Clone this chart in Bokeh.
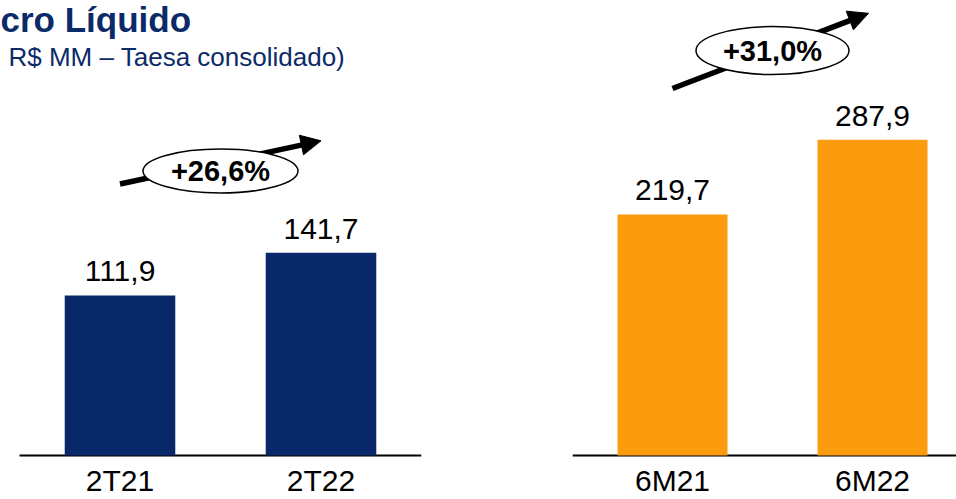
from bokeh.plotting import figure
from bokeh.layouts import row
from bokeh.models import Range1d, Arrow, NormalHead, Label
from bokeh.core.properties import value
from bokeh.embed import file_html
from bokeh.resources import INLINE

# ---- data ----
cats_q = ["2T21", "2T22"]
vals_q = [111.9, 141.7]
growth_q = "+26,6%"

cats_s = ["6M21", "6M22"]
vals_s = [219.7, 287.9]
growth_s = "+31,0%"

title_text = "cro Líquido"
subtitle_text = "R$ MM – Taesa consolidado)"

NAVY = "#08286a"
ORANGE = "#fc9b0e"
TITLE_COLOR = "#0b2a68"
FONT = "Liberation Sans"

BASE_PX = 455      # distance of the baseline from the top of the canvas
TOTAL_H = 499


def fmt(v):
    return f"{v:.1f}".replace(".", ",")


def panel(cats, vals, color, width, bl, br, x_start, x_end, px_per_unit, growth,
          arrow_rel, ell_rel, ell_w, ell_h, axis_start, axis_end):
    y_end = BASE_PX / px_per_unit
    y_start = -(TOTAL_H - BASE_PX) / px_per_unit
    xs = [i + 0.5 for i in range(len(cats))]
    p = figure(width=width, height=TOTAL_H, output_backend="svg", toolbar_location=None,
               x_range=Range1d(x_start, x_end), y_range=Range1d(y_start, y_end),
               x_axis_location=None, y_axis_location=None,
               min_border_left=bl, min_border_right=br, min_border_top=0,
               min_border_bottom=0)
    p.outline_line_color = None
    p.grid.visible = False
    p.background_fill_color = "white"
    p.border_fill_color = "white"

    # category axis: baseline + labels
    p.segment(x0=[axis_start], y0=[0], x1=[axis_end], y1=[0],
              line_color="black", line_width=2)
    p.text(x=xs, y=[0] * len(xs), text=cats, text_align="center",
           text_baseline="top", y_offset=8,
           text_font=value(FONT), text_font_size="30px", text_color="black")

    p.vbar(x=xs, top=vals, width=0.55, bottom=0, fill_color=color,
           line_color=None)
    p.text(x=xs, y=vals, text=[fmt(v) for v in vals], text_align="center",
           text_baseline="bottom", y_offset=-14,
           text_font=value(FONT), text_font_size="30px", text_color="black")

    top = max(vals)
    arrow = Arrow(end=NormalHead(size=20, fill_color="black", line_color="black"),
                  x_start=xs[0], y_start=top * arrow_rel[0],
                  x_end=xs[-1] - arrow_rel[2], y_end=top * arrow_rel[1],
                  line_width=5.5, line_color="black", level="underlay")
    p.add_layout(arrow)
    cx = (xs[0] + xs[-1]) / 2
    p.ellipse(x=[cx], y=[top * ell_rel], width=ell_w, height=ell_h,
              width_units="screen", height_units="screen",
              fill_color="white", line_color="black", line_width=1.5)
    p.text(x=[cx], y=[top * ell_rel], text=[growth], text_align="center",
           text_baseline="middle", text_font=value(FONT), text_font_style="bold",
           text_font_size="29px", text_color="black")
    return p


# left panel: canvas starts at the page edge, 201 px per category
p1 = panel(cats_q, vals_q, NAVY, 440, 0, 19, -19 / 201, 2.0, 1.43, growth_q,
           (1.34, 1.553, 0.0), 1.404, 155, 44, 0, len(cats_q))
# right panel: 200 px per category, cut at the right edge
p2 = panel(cats_s, vals_s, ORANGE, 516, 132, 0, 0, 1.92, 1.097, growth_s,
           (1.162, 1.40, 0.02), 1.282, 153, 48, 0, 1.92)

p1.add_layout(Label(x=0, y=436 + (TOTAL_H - BASE_PX), x_units="screen", y_units="screen",
                    text=title_text, text_font=FONT, text_font_style="bold",
                    text_baseline="alphabetic",
                    text_font_size="35px", text_color=TITLE_COLOR))
p1.add_layout(Label(x=8, y=399 + (TOTAL_H - BASE_PX), x_units="screen", y_units="screen",
                    text=subtitle_text, text_font=FONT, text_baseline="alphabetic",
                    text_font_size="26px", text_color=TITLE_COLOR))

layout = row(p1, p2)
open("out.html", "w").write(file_html(layout, INLINE))
